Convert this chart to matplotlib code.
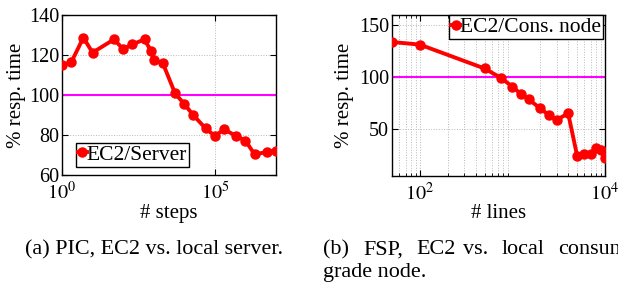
import matplotlib
matplotlib.use("Agg")
import matplotlib.pyplot as plt
from matplotlib.ticker import LogLocator, NullFormatter, FixedLocator

plt.rcParams['font.family'] = ['Liberation Serif', 'DejaVu Serif']
plt.rcParams['mathtext.fontset'] = 'stix'

# Left panel: PIC, EC2 vs local server
steps = [1, 2, 5, 10, 50, 100, 200, 500, 800, 1000, 2000, 5000, 1e4, 2e4,
         5e4, 1e5, 2e5, 5e5, 1e6, 2e6, 5e6, 1e7]
pic_resp = [115, 116.3, 128.7, 121.2, 127.8, 123, 125.3, 127.8, 122.2, 117.5,
            115.8, 100.8, 95.5, 89.8, 83.3, 79.5, 82.8, 79.5, 77.2, 70.3, 71.5, 72.2]

# Right panel: FSP, EC2 vs local consumer grade node
lines_n = [50, 100, 500, 750, 1000, 1250, 1500, 2000, 2500, 3000, 4000, 5000,
           6000, 7000, 8000, 9000, 10000]
fsp_resp = [134, 131.5, 108.5, 99.5, 91, 83.5, 78.8, 70, 63.4, 59, 65.3, 24.4,
            25.7, 25.7, 31.5, 30.2, 22.8]

caption_a = '(a) PIC, EC2 vs. local server.'
caption_b_words = ['(b)', 'FSP,', 'EC2', 'vs.', 'local', 'consumer']
caption_b_line2 = 'grade node.'

W, H = 618, 284
fig = plt.figure(figsize=(W/100, H/100), dpi=100)

fs = 14.5
lfs = 15
legfs = 15.5
red = '#ff0000'
mag = '#ff00ff'
gridkw = dict(color='#b8b8b8', linestyle=':', linewidth=0.7)

# Left axes
L1, R1, T1, B1 = 62, 276, 15, 175
ax1 = fig.add_axes([L1/W, (H-B1)/H, (R1-L1)/W, (B1-T1)/H])
ax1.plot(steps, pic_resp, color=red, lw=2.8, marker='o', ms=6.5, label='EC2/Server', zorder=3)
ax1.axhline(100, color=mag, lw=1.5, zorder=2)
ax1.set_xscale('log')
ax1.set_xlim(1, 1e7)
ax1.set_ylim(60, 140)
ax1.set_xticks([1, 1e5])
ax1.set_xticklabels([r'$10^0$', r'$10^5$'])
ax1.xaxis.set_minor_locator(FixedLocator([]))
ax1.set_yticks([60, 80, 100, 120, 140])
ax1.grid(True, which='major', **gridkw)
ax1.set_axisbelow(True)
ax1.set_xlabel('# steps', fontsize=lfs)
ax1.set_ylabel('% resp. time', fontsize=lfs)
ax1.xaxis.set_label_coords(0.5, (B1-204)/(B1-T1))
ax1.yaxis.set_label_coords((26-L1)/(R1-L1), 0.5)
leg1 = ax1.legend(loc='lower left', bbox_to_anchor=((76-L1)/(R1-L1), (B1-167)/(B1-T1)),
                  fontsize=legfs, numpoints=1, handlelength=0.4, handletextpad=0.0,
                  borderpad=0.1, borderaxespad=0, fancybox=False, framealpha=1)
leg1.get_frame().set_edgecolor('black')
leg1.get_frame().set_linewidth(1.0)

# Right axes
L2, R2, T2, B2 = 392, 605, 15, 176
ax2 = fig.add_axes([L2/W, (H-B2)/H, (R2-L2)/W, (B2-T2)/H])
ax2.plot(lines_n, fsp_resp, color=red, lw=2.8, marker='o', ms=6.5, label='EC2/Cons. node', zorder=3)
ax2.axhline(100, color=mag, lw=1.5, zorder=2)
ax2.set_xscale('log')
ax2.set_xlim(50, 1e4)
ax2.set_ylim(5, 160)
ax2.set_xticks([1e2, 1e4])
ax2.set_xticklabels([r'$10^2$', r'$10^4$'])
ax2.xaxis.set_minor_locator(LogLocator(base=10, subs=range(2, 10)))
ax2.xaxis.set_minor_formatter(NullFormatter())
ax2.set_yticks([50, 100, 150])
ax2.grid(True, which='both', axis='x', **gridkw)
ax2.grid(True, which='major', axis='y', **gridkw)
ax2.set_axisbelow(True)
ax2.set_xlabel('# lines', fontsize=lfs)
ax2.set_ylabel('% resp. time', fontsize=lfs)
ax2.xaxis.set_label_coords(0.5, (B2-204)/(B2-T2))
ax2.yaxis.set_label_coords((354-L2)/(R2-L2), 0.5)
leg2 = ax2.legend(loc='upper right', bbox_to_anchor=((603-L2)/(R2-L2), 1.0), fontsize=legfs,
                  numpoints=1, handlelength=0.4, handletextpad=0.0,
                  borderpad=0.1, borderaxespad=0, fancybox=False, framealpha=1)
leg2.get_frame().set_edgecolor('black')
leg2.get_frame().set_linewidth(1.0)

for ax in (ax1, ax2):
    ax.tick_params(which='both', direction='in', top=True, right=True, labelsize=fs)
    ax.tick_params(which='major', length=4, width=0.8)
    ax.tick_params(which='minor', length=2, width=0.6)
    ax.tick_params(axis='x', pad=5)
    ax.tick_params(axis='y', pad=2)
    for s in ax.spines.values():
        s.set_linewidth(1.0)

cfs = 15.9
fig.text(25/W, 1 - 250/H, caption_a, fontsize=cfs, va='center', ha='left')
word_x = [323, 363, 416, 463, 502, 558]
for wx, wd in zip(word_x, caption_b_words):
    fig.text(wx/W, 1 - 250/H, wd, fontsize=cfs, va='center', ha='left')
fig.text(323/W, 1 - 272/H, caption_b_line2, fontsize=cfs, va='center', ha='left')

fig.savefig('out.png', dpi=100)
